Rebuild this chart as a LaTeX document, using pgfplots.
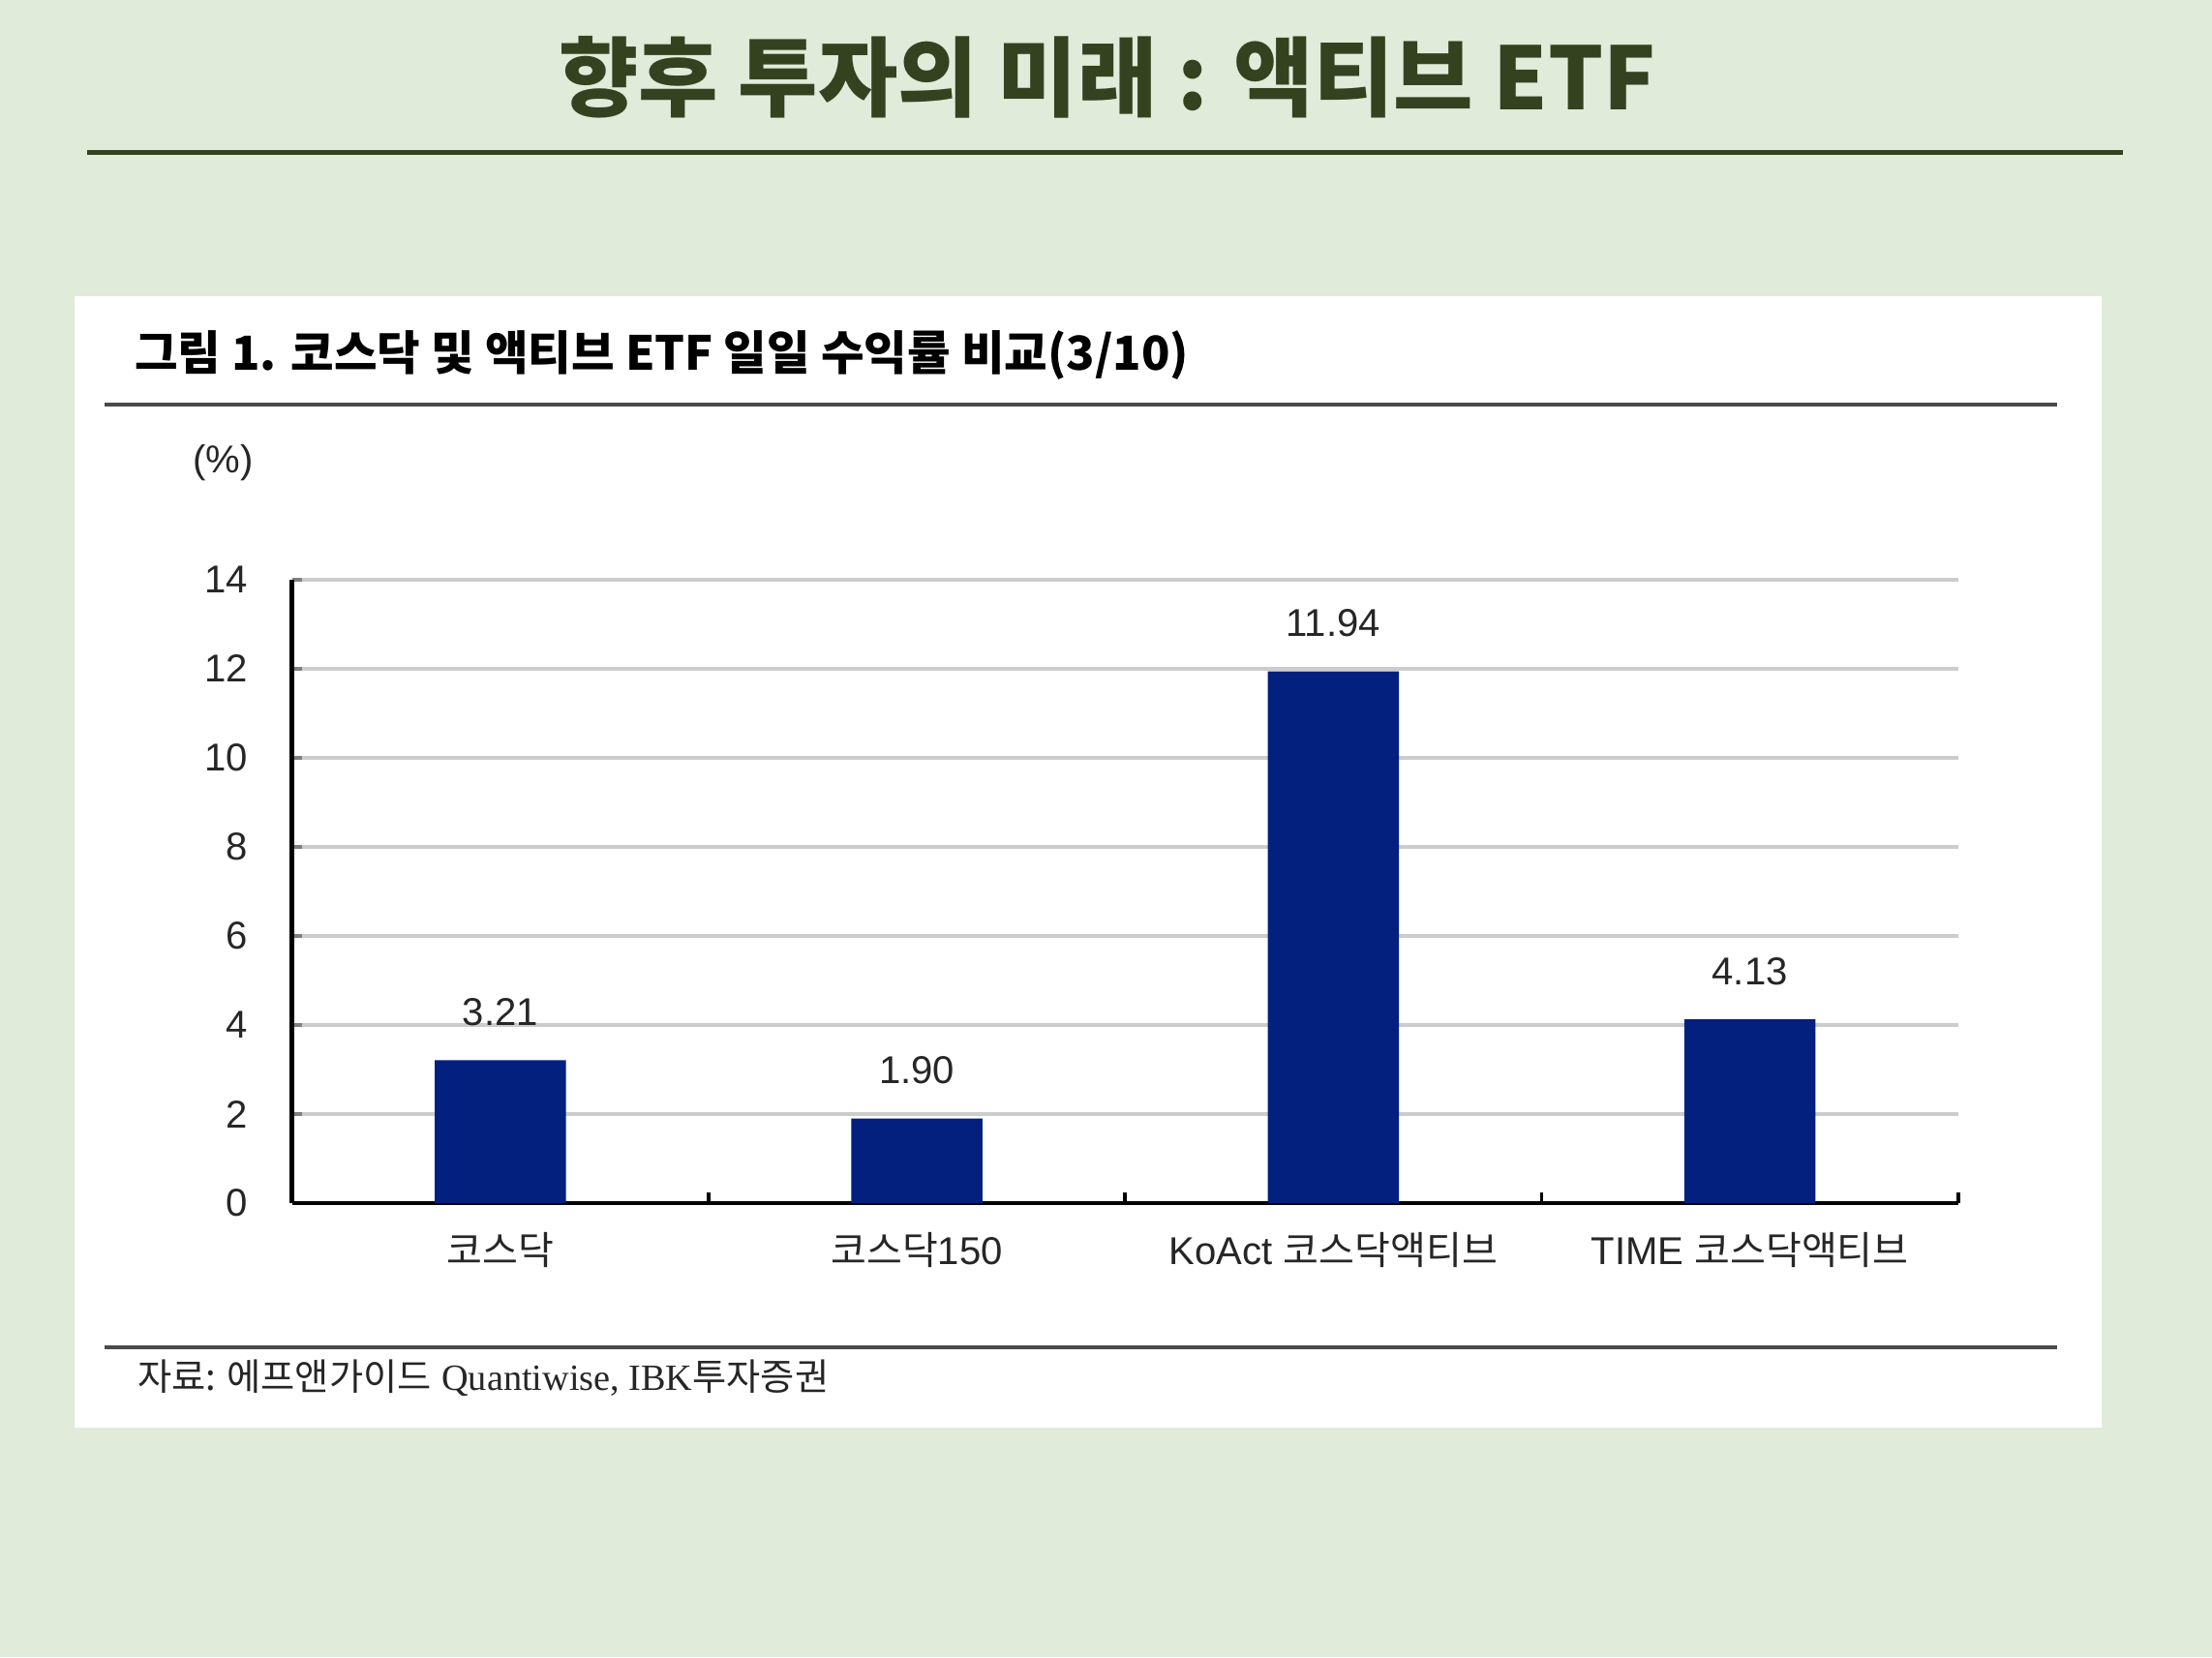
\documentclass[border=0pt]{standalone}
\usepackage{pgfplots}
\pgfplotsset{compat=1.18}
\usepackage{fontspec}
\setmainfont{Liberation Sans}
\newfontfamily\kr{Noto Sans CJK KR}
\newfontfamily\serifl{Liberation Serif}
\definecolor{bg}{HTML}{E0EBDA}
\definecolor{titlegreen}{HTML}{34421F}
\definecolor{barblue}{HTML}{03207F}
\definecolor{rulegray}{HTML}{4A4A4A}
\begin{document}
\begin{tikzpicture}[x=0.4pt,y=-0.4pt]
% page background and panel
\fill[bg] (0,0) rectangle (1568,1175);
\node[text=titlegreen, font=\kr\bfseries\fontsize{24.6}{28}\selectfont] at (785,55) {향후 투자의 미래 : 액티브 ETF};
\draw[titlegreen, line width=1.3pt] (62,108) -- (1505,108);
\fill[white] (53,210) rectangle (1490,1012);
\node[anchor=west, inner sep=0, font=\kr\bfseries\fontsize{13.3}{16}\selectfont] at (95,252) {그림 1. 코스닥 및 액티브 ETF 일일 수익률 비교(3/10)};
\draw[rulegray, line width=1pt] (74,287) -- (1458,287);
\draw[rulegray, line width=1pt] (74,955) -- (1458,955);
\node[font=\fontsize{11}{13}\selectfont, text=black!85] at (158,328) {(\%)};
\node[anchor=west, inner sep=0, font=\fontsize{10.5}{12}\selectfont, text=black!85] at (97,977) {{\kr 자료: 에프앤가이드} {\serifl Quantiwise, IBK}{\kr 투자증권}};
\coordinate (axpos) at (207,853);

\begin{axis}[
    at={(axpos)}, anchor=south west,
    scale only axis,
    width=472.4pt, height=176.8pt,
    xmin=-0.5, xmax=3.5,
    ymin=0, ymax=14,
    ytick={0,2,...,14},
    xtick={0,1,2,3},
    xticklabels={{\kr 코스닥}, {\kr 코스닥}150, KoAct {\kr 코스닥액티브}, TIME {\kr 코스닥액티브}},
    minor xtick={0.5,1.5,2.5,3.5},
    axis x line*=bottom, axis y line*=left,
    axis line style={-, line width=1.2pt},
    x tick style={draw=none},
    minor x tick style={draw=black, line width=1pt},
    minor tick length=3pt,
    y tick style={line width=1pt},
    major tick length=2.8pt,
    tick align=inside,
    ymajorgrids=true,
    grid style={black!20, line width=1pt},
    /pgf/number format/assume math mode=true,
    tick label style={font=\fontsize{11}{13}\selectfont, text=black!85},
    xticklabel style={yshift=-4.8pt},
    yticklabel style={xshift=-9pt},
    nodes near coords={\pgfmathprintnumber[fixed,fixed zerofill,precision=2]{\pgfplotspointmeta}},
    every node near coord/.append style={font=\fontsize{11}{13}\selectfont, text=black!85, anchor=south, inner sep=0pt, yshift=9.5pt},
]
\addplot[ybar, fill=barblue, draw=none, bar width=37.2pt]
    coordinates {
        (0,3.21)
        (1,1.90)
        (2,11.94)
        (3,4.13)
    };
\end{axis}
\end{tikzpicture}
\end{document}
